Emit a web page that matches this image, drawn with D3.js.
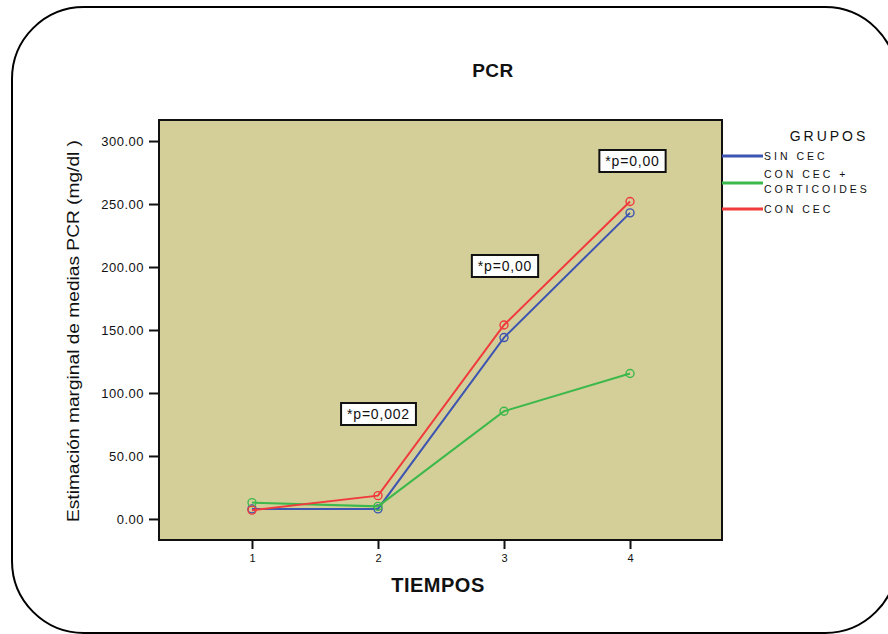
<!DOCTYPE html>
<html><head><meta charset="utf-8">
<script src="https://cdn.jsdelivr.net/npm/d3@7"></script>
<style>
html,body{margin:0;padding:0;background:#fff;}
svg{display:block;font-family:"Liberation Sans",Arial,sans-serif;}
</style></head>
<body>
<svg id="chart" width="888" height="634"></svg>
<script>
const tiempos = [1, 2, 3, 4];
const grupos = ["SIN CEC", "CON CEC + CORTICOIDES", "CON CEC"];
const sinCec = [8, 8, 144, 243];
const conCecCort = [13, 10, 85.5, 115.5];
const conCec = [7, 18.5, 154, 252];
const yTicks = [0, 50, 100, 150, 200, 250, 300];
const annotations = [
  {t: 2, label: "*p=0,002"},
  {t: 3, label: "*p=0,00"},
  {t: 4, label: "*p=0,00"}
];

const colors = ["#3d55b0", "#3cb94a", "#f03a3c"];
const seriesValues = [sinCec, conCecCort, conCec];

const svg = d3.select("#chart");

// outer rounded frame
svg.append("rect").attr("x", 12).attr("y", 7).attr("width", 885).attr("height", 626)
  .attr("rx", 72).attr("ry", 72).attr("fill", "#fff").attr("stroke", "#000").attr("stroke-width", 2);

const L = 159, R = 722, T = 120, B = 540;
const x = d3.scaleLinear().domain([0.262, 4.73]).range([L, R]);
const y = d3.scaleLinear().domain([-16.7, 316.7]).range([B, T]);

svg.append("rect").attr("x", L).attr("y", T).attr("width", R - L).attr("height", B - T)
  .attr("fill", "#d4ce99").attr("stroke", "#111").attr("stroke-width", 2);

// y axis
const yAxis = svg.append("g").attr("transform", `translate(${L},0)`)
  .call(d3.axisLeft(y).tickValues(yTicks).tickFormat(d3.format(".2f")).tickSize(10).tickPadding(5));
yAxis.select(".domain").remove();
yAxis.selectAll(".tick line").attr("stroke", "#111").attr("stroke-width", 2);
yAxis.selectAll(".tick text").attr("font-size", 13).attr("fill", "#111")
  .attr("font-family", "'Liberation Sans',Arial,sans-serif").attr("letter-spacing", "0.5px");

// x axis
const xAxis = svg.append("g").attr("transform", `translate(0,${B})`)
  .call(d3.axisBottom(x).tickValues(tiempos).tickFormat(d3.format("d")).tickSize(9).tickPadding(5));
xAxis.select(".domain").remove();
xAxis.selectAll(".tick line").attr("stroke", "#111").attr("stroke-width", 2);
xAxis.selectAll(".tick text").attr("font-size", 11).attr("fill", "#111")
  .attr("font-family", "'Liberation Sans',Arial,sans-serif");

// lines
const line = d3.line().x((d, i) => x(tiempos[i])).y(d => y(d));
seriesValues.forEach((vals, k) => {
  svg.append("path").datum(vals).attr("d", line).attr("fill", "none")
    .attr("stroke", colors[k]).attr("stroke-width", 2);
  svg.selectAll(null).data(vals).enter().append("circle")
    .attr("cx", (d, i) => x(tiempos[i])).attr("cy", d => y(d)).attr("r", 4)
    .attr("fill", "none").attr("stroke", colors[k]).attr("stroke-width", 1.4);
});

// annotations
const annPos = {2: [378.5, 414], 3: [505, 266], 4: [632.5, 161]};
annotations.forEach(a => {
  const [cx, cy] = annPos[a.t];
  const g = svg.append("g");
  const txt = g.append("text").attr("x", cx).attr("y", cy + 5).attr("text-anchor", "middle")
    .attr("font-size", 14).attr("fill", "#111").attr("letter-spacing", "0.8px").text(a.label);
  const bb = txt.node().getBBox();
  g.insert("rect", "text").attr("x", bb.x - 6).attr("y", cy - 11).attr("width", bb.width + 12).attr("height", 22)
    .attr("fill", "#fff").attr("stroke", "#111").attr("stroke-width", 2);
});

// titles
svg.append("text").attr("x", 493).attr("y", 77).attr("text-anchor", "middle")
  .attr("font-size", 19).attr("font-weight", "bold").attr("fill", "#111").attr("letter-spacing", "0.5px").text("PCR");
svg.append("text").attr("x", 438).attr("y", 592).attr("text-anchor", "middle")
  .attr("font-size", 20).attr("font-weight", "bold").attr("fill", "#111").attr("letter-spacing", "0.5px").text("TIEMPOS");
svg.append("text").attr("transform", "translate(79,331) rotate(-90)").attr("text-anchor", "middle")
  .attr("font-size", 16).attr("fill", "#111").attr("textLength", 382).attr("lengthAdjust", "spacingAndGlyphs")
  .text("Estimación marginal de medias PCR (mg/dl )");

// legend
svg.append("text").attr("x", 829).attr("y", 141).attr("text-anchor", "middle")
  .attr("font-size", 14).attr("fill", "#111").attr("letter-spacing", "3px").text("GRUPOS");
const legY = [156, 183, 209];
const legLines = [["SIN CEC"], ["CON CEC +", "CORTICOIDES"], ["CON CEC"]];
grupos.forEach((g, k) => {
  svg.append("line").attr("x1", R).attr("x2", 763).attr("y1", legY[k]).attr("y2", legY[k])
    .attr("stroke", colors[k]).attr("stroke-width", 3);
  const parts = legLines[k];
  parts.forEach((p, j) => {
    const yy = parts.length === 1 ? legY[k] + 4 : legY[k] - 5 + j * 15;
    svg.append("text").attr("x", 764).attr("y", yy).attr("font-size", 10.5).attr("fill", "#111")
      .attr("letter-spacing", "3px").text(p);
  });
});
</script>
</body></html>
